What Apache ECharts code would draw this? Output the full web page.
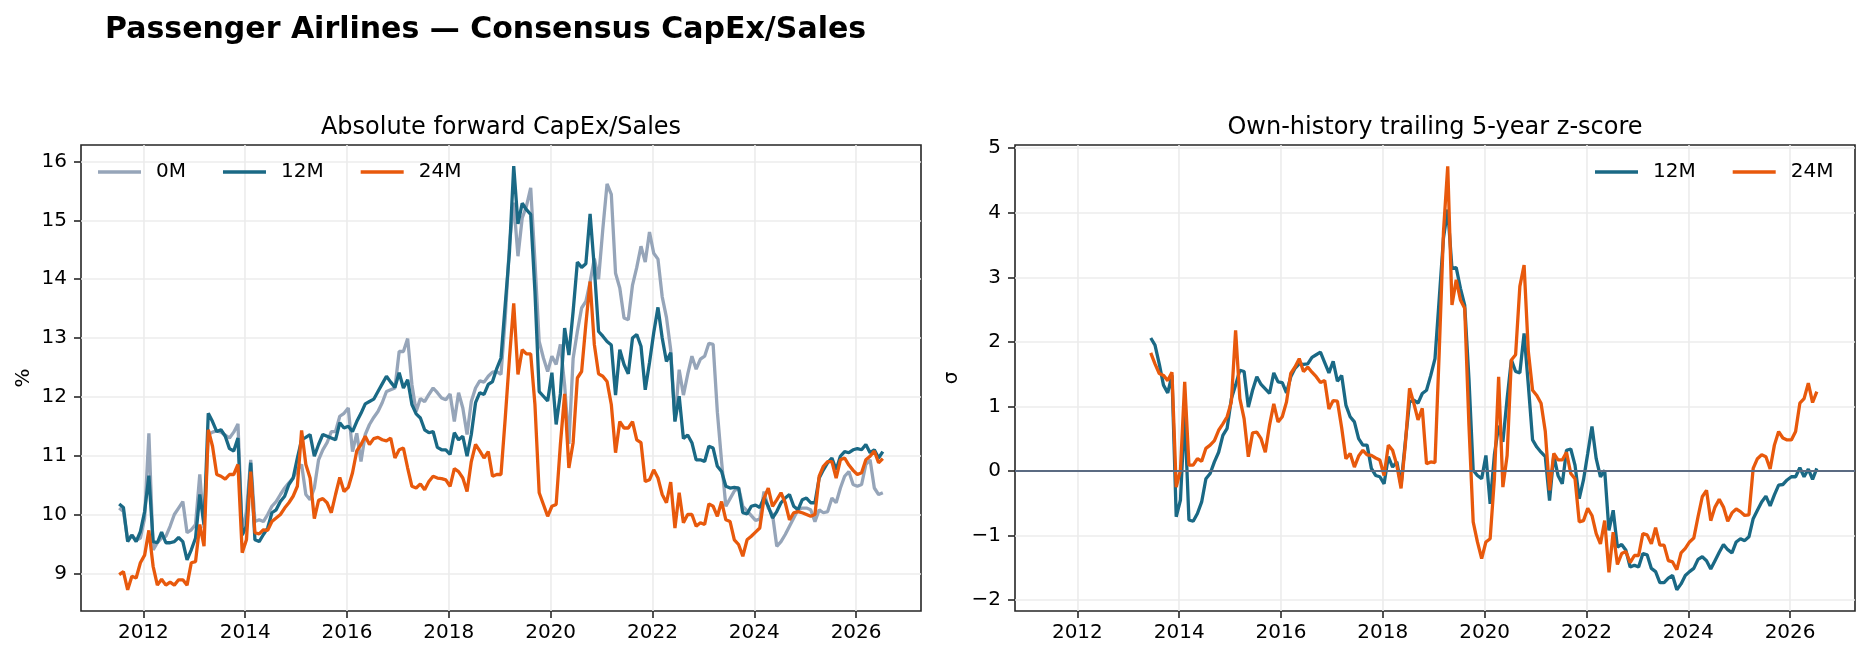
<!DOCTYPE html>
<html>
<head>
<meta charset="utf-8">
<title>Passenger Airlines — Consensus CapEx/Sales</title>
<script src="https://cdn.jsdelivr.net/npm/echarts@6/dist/echarts.min.js"></script>
<style>
  html, body { margin: 0; padding: 0; background: #fff; }
  #chart { width: 1869px; height: 659px; }
</style>
</head>
<body>
<div id="chart"></div>
<script type="text/javascript">

// monthly observations, Jul 2011 .. Jul 2026
var startYear = 2011, startMonth = 7, nMonths = 181;
var zStart = 23; // z-score needs a history window, first value Jun 2013

var capex0M = [
  10.11,10.05,9.57,9.65,9.56,9.60,9.94,11.38,9.40,9.52,
  9.60,9.63,9.80,10.00,10.11,10.22,9.69,9.74,9.83,10.68,
  9.77,11.36,11.40,11.42,11.40,11.35,11.30,11.40,11.54,9.68,
  10.05,10.93,9.88,9.91,9.88,10.00,10.14,10.22,10.34,10.45,
  10.54,10.62,10.76,10.85,10.34,10.25,10.45,10.93,11.10,11.22,
  11.41,11.41,11.67,11.72,11.81,11.07,11.38,10.90,11.36,11.53,
  11.65,11.75,11.90,12.09,12.12,12.15,12.77,12.77,12.99,12.21,
  11.75,11.97,11.92,12.04,12.15,12.07,11.98,11.95,12.05,11.58,
  12.07,11.81,11.36,11.92,12.15,12.27,12.25,12.35,12.42,12.43,
  12.38,13.34,14.59,15.30,14.39,15.04,15.24,15.55,14.30,12.94,
  12.66,12.43,12.69,12.55,12.89,12.20,11.20,12.65,13.11,13.51,
  13.62,13.95,14.35,14.00,14.85,15.62,15.44,14.10,13.85,13.34,
  13.31,13.90,14.20,14.56,14.29,14.80,14.44,14.34,13.70,13.35,
  12.80,11.60,12.46,12.03,12.38,12.69,12.47,12.64,12.69,12.91,
  12.89,11.74,10.90,10.14,10.27,10.40,10.46,10.14,10.06,9.98,
  9.90,9.92,10.39,10.11,10.00,9.46,9.54,9.66,9.80,9.94,
  10.08,10.11,10.11,10.08,9.88,10.08,10.03,10.05,10.28,10.20,
  10.45,10.65,10.73,10.51,10.48,10.51,10.85,10.93,10.45,10.34,
  10.37
];

var capex12M = [
  10.18,10.12,9.54,9.65,9.54,9.71,10.05,10.66,9.54,9.52,
  9.70,9.52,9.52,9.54,9.61,9.54,9.23,9.40,9.60,10.34,
  9.83,11.72,11.58,11.41,11.44,11.33,11.12,11.08,11.30,9.65,
  9.80,10.88,9.57,9.54,9.66,9.77,10.03,10.08,10.22,10.31,
  10.51,10.62,10.96,11.27,11.31,11.36,10.99,11.19,11.36,11.33,
  11.30,11.27,11.56,11.47,11.50,11.41,11.58,11.72,11.88,11.92,
  11.96,12.09,12.22,12.35,12.25,12.16,12.41,12.15,12.29,11.87,
  11.71,11.64,11.44,11.39,11.41,11.14,11.10,11.10,11.02,11.39,
  11.27,11.33,10.99,11.36,11.90,12.07,12.04,12.21,12.26,12.48,
  12.66,13.57,14.47,15.92,14.94,15.29,15.18,15.10,13.79,12.09,
  12.01,11.93,12.41,11.53,12.05,13.17,12.71,13.45,14.29,14.20,
  14.26,15.11,14.19,13.11,13.03,12.94,12.88,12.03,12.80,12.55,
  12.39,13.00,13.06,12.86,12.12,12.58,13.09,13.52,13.00,12.60,
  12.75,11.58,12.01,11.29,11.35,11.22,10.93,10.93,10.90,11.16,
  11.13,10.82,10.73,10.48,10.45,10.46,10.45,10.03,10.01,10.14,
  10.16,10.12,10.28,10.14,9.94,10.05,10.20,10.28,10.34,10.14,
  10.08,10.25,10.28,10.20,10.20,10.62,10.76,10.88,10.96,10.76,
  10.99,11.07,11.05,11.10,11.12,11.10,11.19,11.05,11.10,10.96,
  11.07
];

var capex24M = [
  8.98,9.03,8.72,8.95,8.92,9.18,9.31,9.73,9.12,8.80,
  8.90,8.80,8.85,8.80,8.89,8.89,8.80,9.18,9.20,9.83,
  9.46,11.44,11.16,10.68,10.65,10.60,10.68,10.68,10.85,9.35,
  9.57,10.73,9.69,9.67,9.74,9.73,9.88,9.94,10.00,10.11,
  10.20,10.31,10.48,11.43,10.85,10.62,9.93,10.24,10.27,10.20,
  10.03,10.34,10.63,10.39,10.46,10.71,11.08,11.19,11.33,11.19,
  11.29,11.31,11.27,11.25,11.30,10.96,11.10,11.13,10.79,10.48,
  10.45,10.52,10.42,10.56,10.65,10.62,10.61,10.59,10.48,10.78,
  10.73,10.62,10.39,10.90,11.19,11.08,10.96,11.07,10.65,10.68,
  10.68,11.64,12.66,13.59,12.38,12.80,12.73,12.73,11.87,10.37,
  10.17,9.97,10.14,10.17,11.19,12.05,10.79,11.22,12.32,12.43,
  13.23,13.96,12.89,12.39,12.35,12.26,11.87,11.05,11.58,11.47,
  11.47,11.58,11.27,11.22,10.56,10.59,10.76,10.62,10.34,10.20,
  10.55,9.77,10.37,9.86,10.00,10.00,9.80,9.86,9.83,10.18,
  10.14,9.97,10.22,9.91,9.88,9.57,9.49,9.29,9.57,9.63,
  9.70,9.77,10.28,10.45,10.14,10.25,10.37,10.20,9.91,10.03,
  10.05,10.03,10.00,9.97,10.00,10.65,10.82,10.90,10.90,10.62,
  10.93,10.96,10.84,10.75,10.68,10.71,10.93,10.99,11.08,10.88,
  10.95
];

var z12M = [
  2.06,1.95,1.66,1.33,1.21,1.48,-0.71,-0.45,0.90,-0.76,
  -0.78,-0.66,-0.48,-0.12,-0.04,0.14,0.29,0.55,0.66,1.12,
  1.33,1.56,1.54,0.99,1.25,1.46,1.34,1.27,1.20,1.52,
  1.38,1.37,1.21,1.46,1.59,1.66,1.65,1.66,1.76,1.80,
  1.84,1.68,1.52,1.70,1.39,1.48,1.02,0.84,0.76,0.50,
  0.40,0.40,0.04,-0.07,-0.09,-0.20,0.22,0.06,0.14,-0.22,
  0.45,1.07,1.10,1.05,1.20,1.25,1.48,1.74,2.67,3.61,
  4.05,3.14,3.15,2.83,2.57,1.43,0.01,-0.07,-0.12,0.24,
  -0.51,0.25,0.70,0.45,1.12,1.72,1.54,1.52,2.13,1.33,
  0.48,0.37,0.29,0.22,-0.46,0.24,-0.07,-0.20,0.32,0.34,
  0.09,-0.43,-0.14,0.27,0.69,0.19,-0.09,0.01,-0.92,-0.61,
  -1.18,-1.14,-1.23,-1.49,-1.46,-1.49,-1.28,-1.30,-1.51,-1.56,
  -1.73,-1.73,-1.66,-1.62,-1.84,-1.75,-1.62,-1.56,-1.51,-1.37,
  -1.33,-1.39,-1.52,-1.39,-1.26,-1.14,-1.22,-1.27,-1.10,-1.05,
  -1.08,-1.02,-0.74,-0.61,-0.48,-0.39,-0.54,-0.37,-0.22,-0.21,
  -0.14,-0.09,-0.09,0.05,-0.09,0.03,-0.13,0.04
];

var z24M = [
  1.83,1.66,1.51,1.48,1.40,1.53,-0.25,0.01,1.38,0.09,
  0.09,0.19,0.15,0.35,0.40,0.47,0.63,0.73,0.84,1.07,
  2.18,1.12,0.81,0.22,0.59,0.60,0.50,0.29,0.71,1.04,
  0.76,0.84,1.07,1.51,1.61,1.74,1.54,1.61,1.53,1.46,
  1.37,1.40,0.96,1.09,1.08,0.67,0.19,0.27,0.06,0.23,
  0.32,0.25,0.24,0.20,0.17,-0.07,0.40,0.32,0.09,-0.27,
  0.40,1.28,1.05,0.79,0.97,0.11,0.14,0.13,1.85,3.71,
  4.72,2.57,2.96,2.65,2.52,0.71,-0.79,-1.10,-1.36,-1.10,
  -1.05,-0.12,1.46,-0.25,0.24,1.72,1.80,2.86,3.19,1.85,
  1.25,1.17,1.05,0.61,-0.30,0.27,0.17,0.17,0.29,-0.04,
  -0.12,-0.79,-0.77,-0.58,-0.69,-0.97,-1.13,-0.77,-1.57,-0.95,
  -1.45,-1.28,-1.25,-1.42,-1.31,-1.31,-0.97,-0.99,-1.13,-0.88,
  -1.15,-1.15,-1.39,-1.41,-1.53,-1.27,-1.20,-1.10,-1.04,-0.71,
  -0.40,-0.30,-0.77,-0.56,-0.44,-0.56,-0.78,-0.65,-0.59,-0.63,
  -0.69,-0.68,0.04,0.19,0.25,0.22,0.03,0.40,0.61,0.51,
  0.48,0.48,0.61,1.05,1.12,1.36,1.06,1.23
];

var yearTicks = [2012, 2014, 2016, 2018, 2020, 2022, 2024, 2026];
var pctTicks = [9, 10, 11, 12, 13, 14, 15, 16];
var sigmaTicks = [-2, -1, 0, 1, 2, 3, 4, 5];

var GRAY = '#96a5b9', TEAL = '#1a6985', ORANGE = '#e8590c';
var FONT = 'DejaVu Sans';

// month -> fractional year (values sit a little into each month)
var months = [];
for (var i = 0; i < nMonths; i++) {
  var m = startMonth - 1 + i;
  months.push(startYear + Math.floor(m / 12) + (m % 12) / 12 + 0.025);
}

function pairs(vals, offset) {
  return vals.map(function (v, k) { return [months[k + offset], v]; });
}

function minus(v) {
  return v < 0 ? '\u2212' + Math.abs(v) : String(v);
}

var gridLine = { show: true, lineStyle: { color: '#ececec', width: 1.6 } };
var tick = { show: true, length: 7, inside: false, lineStyle: { color: '#262626', width: 1.6 } };
var lbl = { fontFamily: FONT, fontSize: 20, color: '#000' };

function xAxisFor(idx) {
  return {
    type: 'value', gridIndex: idx, min: 2010.775, max: 2027.275,
    axisLine: { show: false, onZero: false },
    axisTick: Object.assign({ customValues: yearTicks }, tick),
    axisLabel: Object.assign({ customValues: yearTicks, margin: 12,
      formatter: function (v) { return String(Math.round(v)); } }, lbl),
    splitLine: gridLine
  };
}

function yAxisFor(idx, mn, mx, ticks, name, gap) {
  return {
    type: 'value', gridIndex: idx, min: mn, max: mx,
    name: name, nameLocation: 'middle', nameGap: gap, nameRotate: 90,
    nameTextStyle: { fontFamily: FONT, fontSize: 20, color: '#000' },
    axisLine: { show: false, onZero: false },
    axisTick: Object.assign({ customValues: ticks }, tick),
    axisLabel: Object.assign({ customValues: ticks, margin: 14, formatter: minus }, lbl),
    splitLine: gridLine
  };
}

function line(name, color, data, xi, z) {
  return {
    name: name, type: 'line', xAxisIndex: xi, yAxisIndex: xi,
    data: data, symbol: 'none', z: z,
    lineStyle: { color: color, width: 3.3 }, itemStyle: { color: color }
  };
}

var chart = echarts.init(document.getElementById('chart'), null, { renderer: 'canvas' });

var legendBase = {
  orient: 'horizontal', icon: 'rect', itemWidth: 43, itemHeight: 3.3, itemGap: 37,
  padding: 0, top: 162,
  textStyle: { fontFamily: FONT, fontSize: 20, color: '#000', padding: [0, 0, 0, 10] }
};

var option = {
  animation: false,
  backgroundColor: '#fff',
  graphic: [
    { type: 'text', x: 105, y: 30, style: { text: 'Passenger Airlines \u2014 Consensus CapEx/Sales',
      font: 'bold 30px "DejaVu Sans"', fill: '#000', textAlign: 'left', textVerticalAlign: 'middle' } },
    { type: 'text', x: 501, y: 128, style: { text: 'Absolute forward CapEx/Sales',
      font: '24px "DejaVu Sans"', fill: '#000', textAlign: 'center', textVerticalAlign: 'middle' } },
    { type: 'text', x: 1435, y: 128, style: { text: 'Own-history trailing 5-year z-score',
      font: '24px "DejaVu Sans"', fill: '#000', textAlign: 'center', textVerticalAlign: 'middle' } }
  ],
  legend: [
    Object.assign({ left: 98, data: ['0M', '12M', '24M'] }, legendBase),
    Object.assign({ left: 1595, data: ['12M', '24M'] }, legendBase)
  ],
  grid: [
    { left: 81, top: 145, width: 840, height: 466, show: true, borderColor: '#262626', borderWidth: 1.6 },
    { left: 1015, top: 145, width: 840, height: 466, show: true, borderColor: '#262626', borderWidth: 1.6 }
  ],
  xAxis: [xAxisFor(0), xAxisFor(1)],
  yAxis: [
    yAxisFor(0, 8.36, 16.28, pctTicks, '%', 47),
    yAxisFor(1, -2.17, 5.05, sigmaTicks, '\u03c3', 53)
  ],
  series: [
    line('0M', GRAY, pairs(capex0M, 0), 0, 2),
    line('12M', TEAL, pairs(capex12M, 0), 0, 3),
    line('24M', ORANGE, pairs(capex24M, 0), 0, 4),
    line('12M', TEAL, pairs(z12M, zStart), 1, 3),
    Object.assign(line('24M', ORANGE, pairs(z24M, zStart), 1, 4), {
      markLine: {
        silent: true, symbol: 'none', label: { show: false },
        lineStyle: { color: '#5b6b82', width: 2, type: 'solid' },
        data: [{ yAxis: 0 }]
      }
    })
  ]
};

chart.setOption(option);
</script>
</body>
</html>
